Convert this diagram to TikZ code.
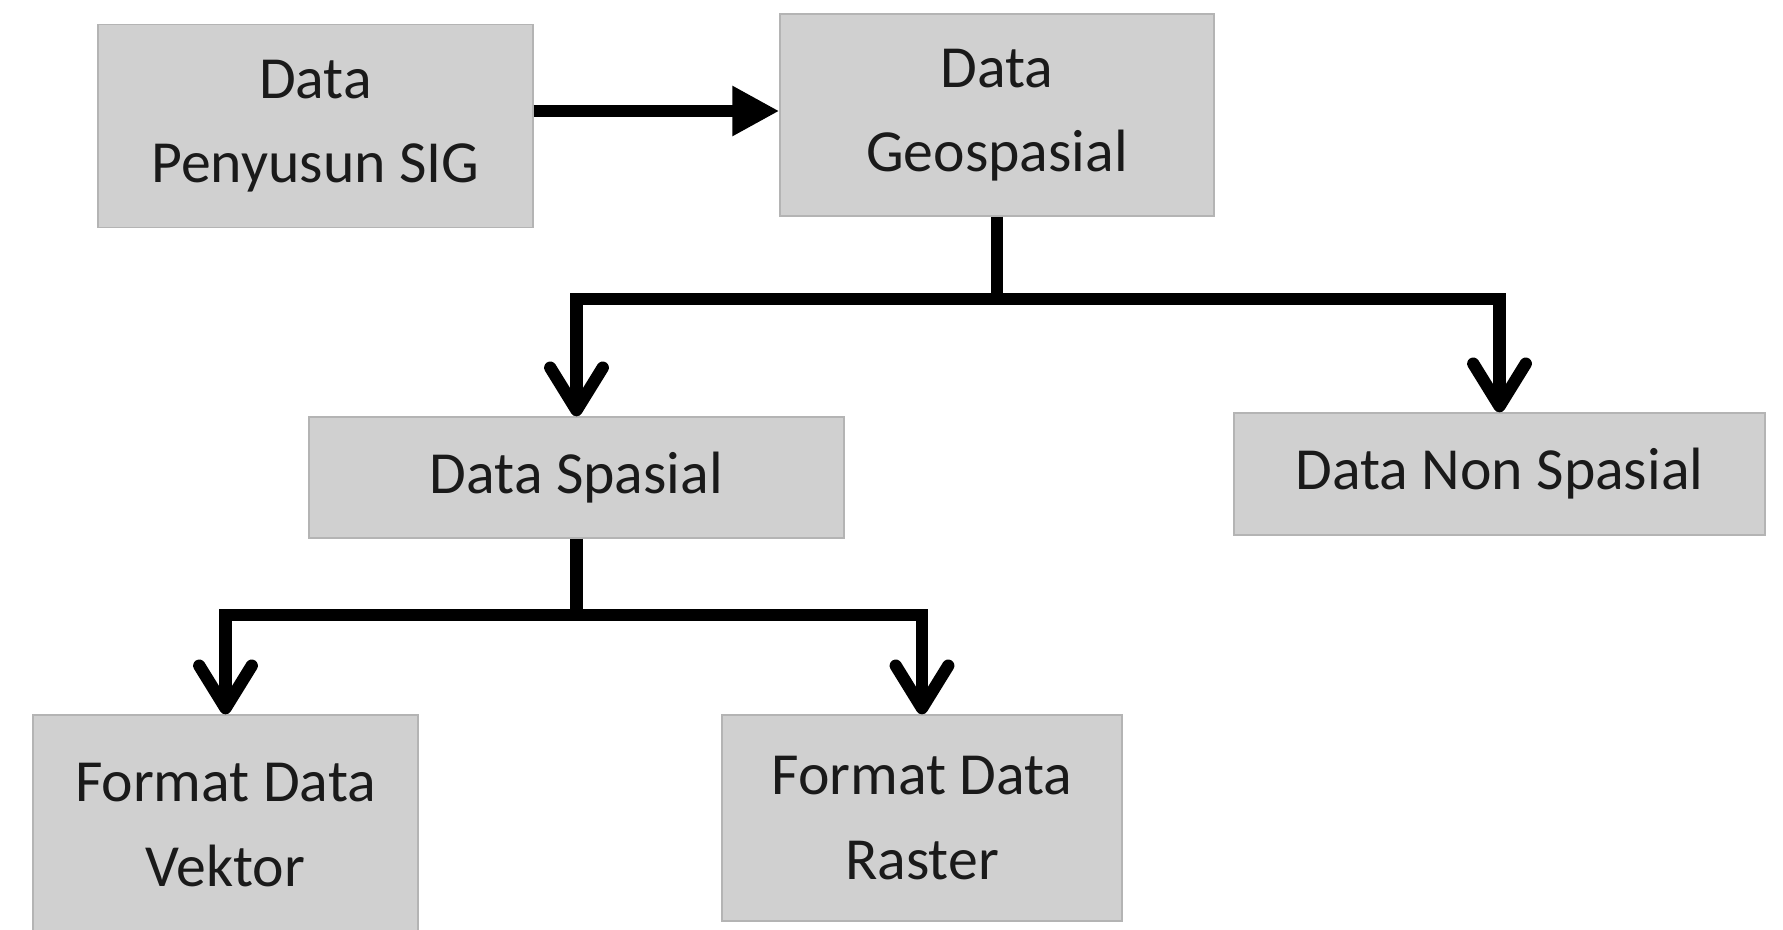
\documentclass[tikz,border=0pt]{standalone}
\usepackage{fontspec}
\setmainfont{Carlito}
\usepackage{tikz}
\usetikzlibrary{arrows.meta, calc}
\definecolor{boxfill}{HTML}{D0D0D0}
\definecolor{boxline}{HTML}{B4B4B4}
\definecolor{textgray}{HTML}{1A1A1A}
\tikzset{
box/.style={draw=boxline, fill=boxfill, line width=0.8pt, text=textgray, align=center, inner sep=0pt, font=\fontsize{34}{48}\selectfont}, % grey boxes
flow/.style={line width=7pt, line join=miter}, % thick black lines
feed/.style={flow, -{Triangle[length=0.94cm, width=0.94cm]}}, % filled head
down/.style={flow, -{Straight Barb[length=0.85cm, width=1.05cm, round]}}, % open head
}

\begin{document}
\begin{tikzpicture}[x=0.02cm, y=-0.02cm]
  \useasboundingbox (0,0) rectangle (1783,930);
  \clip (0,0) rectangle (1783,930);

  % top row
  \node[box, minimum width=8.7cm, minimum height=4.06cm] at (315.5,126) (sig){Data\\Penyusun SIG};
  \node[box, minimum width=8.68cm, minimum height=4.04cm] at (997,115) (geo){Data\\Geospasial};
  \draw[feed] (sig.east |- 0,111) -- (geo.west |- 0,111);

  % middle row
  \node[box, minimum width=10.7cm, minimum height=2.42cm] at (576.5,477.5) (spasial){Data Spasial};
  \node[box, minimum width=10.62cm, minimum height=2.44cm] at (1499.5,474) (nonsp){Data Non Spasial};
  \coordinate (split1) at ($(geo.south)+(0,82)$);
  \draw[flow] (geo.south) -- (split1);
  \draw[down] (split1) -| (spasial.north);
  \draw[down] (split1) -| (nonsp.north);

  % bottom row
  \node[box, minimum width=7.7cm, minimum height=4.4cm] at (225.5,825) (vektor){Format Data\\Vektor};
  \node[box, minimum width=8.0cm, minimum height=4.12cm] at (922,818) (raster){Format Data\\Raster};
  \coordinate (split2) at ($(spasial.south)+(0,76)$);
  \draw[flow] (spasial.south) -- (split2);
  \draw[down] (split2) -| (vektor.north);
  \draw[down] (split2) -| (raster.north);
\end{tikzpicture}
\end{document}
